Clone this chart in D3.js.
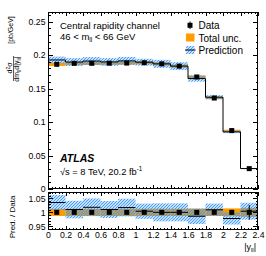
<!DOCTYPE html>
<html>
<head>
<meta charset="utf-8">
<script src="https://cdn.jsdelivr.net/npm/d3@7"></script>
<style>
  body { margin: 0; background: #fff; }
  svg { display: block; font-family: "Liberation Sans", Arial, Helvetica, sans-serif; }
</style>
</head>
<body>
<svg id="chart" width="266" height="256"></svg>
<script>
// |y_ll| bin edges
const binEdges = [0, 0.2, 0.4, 0.6, 0.8, 1.0, 1.2, 1.4, 1.6, 1.8, 2.0, 2.2, 2.4];
// measured cross section [pb/GeV]
const dataVals = [0.1861, 0.1876, 0.1876, 0.1878, 0.1880, 0.1885, 0.1868, 0.1834, 0.1672, 0.1358, 0.0872, 0.0304];
// relative stat. error of data
const dataStat = [0.003, 0.003, 0.003, 0.003, 0.003, 0.003, 0.003, 0.004, 0.004, 0.005, 0.008, 0.026];
// relative total uncertainty (orange)
const totalUnc = [0.013, 0.013, 0.013, 0.013, 0.013, 0.013, 0.013, 0.013, 0.013, 0.013, 0.014, 0.016];
// prediction / data
const predRatio = [1.035, 1.010, 1.018, 1.010, 1.017, 1.004, 1.000, 1.000, 0.986, 1.009, 0.978, 1.004];
// relative prediction uncertainty (hatched)
const predUnc = [0.026, 0.031, 0.031, 0.030, 0.031, 0.027, 0.032, 0.032, 0.028, 0.022, 0.022, 0.030];

// axis ticks
const xMajor = [0, 0.2, 0.4, 0.6, 0.8, 1, 1.2, 1.4, 1.6, 1.8, 2, 2.2, 2.4];
const yMajor = [0, 0.05, 0.1, 0.15, 0.2, 0.25];
const rMajor = [0.95, 1, 1.05];

const svg = d3.select('#chart');
const L = 48, R = 258, mainTop = 12, mainBot = 189, ratTop = 192, ratBot = 230;

const x = d3.scaleLinear().domain([0, 2.4]).range([L, R]);
const y = d3.scaleLinear().domain([0, 0.2642]).range([mainBot, mainTop]);
const yr = d3.scaleLinear().domain([0.937, 1.0725]).range([ratBot, ratTop]);

const xMinor = d3.range(0, 2.4001, 0.04).map(v => +v.toFixed(2)).filter(v => !xMajor.some(m => Math.abs(m - v) < 1e-6));
const yMinor = d3.range(0, 0.2641, 0.01).map(v => +v.toFixed(2)).filter(v => !yMajor.some(m => Math.abs(m - v) < 1e-6));
const rMinor = d3.range(0.94, 1.0701, 0.01).map(v => +v.toFixed(2)).filter(v => !rMajor.some(m => Math.abs(m - v) < 1e-6));

const bins = dataVals.map((d, i) => ({
  lo: binEdges[i], hi: binEdges[i + 1], mid: (binEdges[i] + binEdges[i + 1]) / 2,
  d, stat: dataStat[i], tot: totalUnc[i], pr: predRatio[i], pu: predUnc[i],
  pred: d * predRatio[i]
}));

const defs = svg.append('defs');
const pat = defs.append('pattern').attr('id', 'hatch')
  .attr('patternUnits', 'userSpaceOnUse').attr('width', 3).attr('height', 3);
pat.append('path').attr('d', 'M-1,1 l2,-2 M0,3 l3,-3 M2,4 l2,-2')
  .attr('stroke', '#3d9bff').attr('stroke-width', 1.2);
defs.append('clipPath').attr('id', 'clipMain').append('rect')
  .attr('x', L).attr('y', mainTop).attr('width', R - L).attr('height', mainBot - mainTop);
defs.append('clipPath').attr('id', 'clipRat').append('rect')
  .attr('x', L).attr('y', ratTop).attr('width', R - L).attr('height', ratBot - ratTop);

const ORANGE = '#ff9c00';

// ---------- main panel ----------
const gm = svg.append('g').attr('clip-path', 'url(#clipMain)');

gm.selectAll('rect.tot').data(bins).join('rect').attr('class', 'tot')
  .attr('x', b => x(b.lo)).attr('width', b => x(b.hi) - x(b.lo))
  .attr('y', b => y(b.d * (1 + b.tot))).attr('height', b => y(b.d * (1 - b.tot)) - y(b.d * (1 + b.tot)))
  .attr('fill', ORANGE);

gm.selectAll('rect.pu').data(bins).join('rect').attr('class', 'pu')
  .attr('x', b => x(b.lo)).attr('width', b => x(b.hi) - x(b.lo))
  .attr('y', b => y(b.pred * (1 + b.pu))).attr('height', b => y(b.pred * (1 - b.pu)) - y(b.pred * (1 + b.pu)))
  .attr('fill', 'url(#hatch)');

const stepPts = bins.map(b => [b.lo, b.pred]).concat([[2.4, bins[bins.length - 1].pred]]);
gm.append('path').datum(stepPts)
  .attr('d', d3.line().x(p => x(p[0])).y(p => y(p[1])).curve(d3.curveStepAfter))
  .attr('fill', 'none').attr('stroke', '#000').attr('stroke-width', 1);

gm.selectAll('line.err').data(bins).join('line').attr('class', 'err')
  .attr('x1', b => x(b.mid)).attr('x2', b => x(b.mid))
  .attr('y1', b => y(b.d * (1 + b.stat))).attr('y2', b => y(b.d * (1 - b.stat)))
  .attr('stroke', '#000').attr('stroke-width', 1);
gm.selectAll('rect.pt').data(bins).join('rect').attr('class', 'pt')
  .attr('x', b => x(b.mid) - 2.5).attr('y', b => y(b.d) - 2.5)
  .attr('width', 5).attr('height', 5).attr('fill', '#000');

// ---------- ratio panel ----------
const gr = svg.append('g').attr('clip-path', 'url(#clipRat)');

gr.selectAll('rect.tot').data(bins).join('rect').attr('class', 'tot')
  .attr('x', b => x(b.lo)).attr('width', b => x(b.hi) - x(b.lo))
  .attr('y', b => yr(1 + b.tot)).attr('height', b => yr(1 - b.tot) - yr(1 + b.tot))
  .attr('fill', ORANGE);

gr.selectAll('rect.pu').data(bins).join('rect').attr('class', 'pu')
  .attr('x', b => x(b.lo)).attr('width', b => x(b.hi) - x(b.lo))
  .attr('y', b => yr(b.pr * (1 + b.pu))).attr('height', b => yr(b.pr * (1 - b.pu)) - yr(b.pr * (1 + b.pu)))
  .attr('fill', 'url(#hatch)');

gr.selectAll('line.pr').data(bins).join('line').attr('class', 'pr')
  .attr('x1', b => x(b.lo)).attr('x2', b => x(b.hi))
  .attr('y1', b => yr(b.pr)).attr('y2', b => yr(b.pr))
  .attr('stroke', '#000').attr('stroke-width', 1);

gr.selectAll('line.err').data(bins).join('line').attr('class', 'err')
  .attr('x1', b => x(b.mid)).attr('x2', b => x(b.mid))
  .attr('y1', b => yr(1 + b.stat)).attr('y2', b => yr(1 - b.stat))
  .attr('stroke', '#000').attr('stroke-width', 1);
gr.selectAll('rect.pt').data(bins).join('rect').attr('class', 'pt')
  .attr('x', b => x(b.mid) - 2.5).attr('y', yr(1) - 2.5)
  .attr('width', 5).attr('height', 5).attr('fill', '#000');

// ---------- axes ----------
function tidy(g, size) {
  g.select('.domain').remove();
  g.attr('font-size', size || 8.7).attr('font-family', null);
  g.selectAll('line').attr('shape-rendering', 'crispEdges');
}
function addAxis(axis, tx, ty) {
  const g = svg.append('g').attr('transform', `translate(${tx},${ty})`).call(axis);
  tidy(g);
  g.selectAll('text').attr('fill', '#000');
  return g;
}
const fmt = d3.format('~g');

// main panel
addAxis(d3.axisLeft(y).tickValues(yMajor).tickSize(-5).tickPadding(2.5).tickFormat(fmt), L, 0);
addAxis(d3.axisLeft(y).tickValues(yMinor).tickSize(-2.5).tickFormat(''), L, 0);
addAxis(d3.axisRight(y).tickValues(yMajor).tickSize(-5).tickFormat(''), R, 0);
addAxis(d3.axisRight(y).tickValues(yMinor).tickSize(-2.5).tickFormat(''), R, 0);
addAxis(d3.axisBottom(x).tickValues(xMajor).tickSize(-4).tickFormat(''), 0, mainBot);
addAxis(d3.axisBottom(x).tickValues(xMinor).tickSize(-2).tickFormat(''), 0, mainBot);
addAxis(d3.axisTop(x).tickValues(xMajor).tickSize(-4).tickFormat(''), 0, mainTop);
addAxis(d3.axisTop(x).tickValues(xMinor).tickSize(-2).tickFormat(''), 0, mainTop);

// ratio panel
addAxis(d3.axisLeft(yr).tickValues(rMajor).tickSize(-5).tickPadding(2.5).tickFormat(fmt), L, 0);
addAxis(d3.axisLeft(yr).tickValues(rMinor).tickSize(-2.5).tickFormat(''), L, 0);
addAxis(d3.axisRight(yr).tickValues(rMajor).tickSize(-5).tickFormat(''), R, 0);
addAxis(d3.axisRight(yr).tickValues(rMinor).tickSize(-2.5).tickFormat(''), R, 0);
addAxis(d3.axisBottom(x).tickValues(xMajor).tickSize(-4).tickPadding(2.3).tickFormat(fmt), 0, ratBot);
addAxis(d3.axisBottom(x).tickValues(xMinor).tickSize(-2).tickFormat(''), 0, ratBot);
addAxis(d3.axisTop(x).tickValues(xMajor).tickSize(-4).tickFormat(''), 0, ratTop);
addAxis(d3.axisTop(x).tickValues(xMinor).tickSize(-2).tickFormat(''), 0, ratTop);

// frames
[[mainTop, mainBot], [ratTop, ratBot]].forEach(([t, b]) => {
  svg.append('rect').attr('x', L + 0.5).attr('y', t + 0.5).attr('width', R - L - 1).attr('height', b - t - 1)
    .attr('fill', 'none').attr('stroke', '#000').attr('stroke-width', 1);
});

// ---------- labels ----------
svg.append('text').attr('x', 60).attr('y', 28.5).attr('font-size', 9.5).text('Central rapidity channel');
const t2 = svg.append('text').attr('x', 60).attr('y', 40).attr('font-size', 9.5);
t2.append('tspan').text('46 < m');
t2.append('tspan').attr('font-size', 6.5).attr('dy', 2).text('ll');
t2.append('tspan').attr('dy', -2).text(' < 66 GeV');

svg.append('text').attr('x', 60).attr('y', 162).attr('font-size', 10.5)
  .attr('font-weight', 'bold').attr('font-style', 'italic').text('ATLAS');
const t3 = svg.append('text').attr('x', 60).attr('y', 175).attr('font-size', 9.3);
t3.append('tspan').text('\u221As = 8 TeV, 20.2 fb');
t3.append('tspan').attr('font-size', 6.3).attr('dy', -4).text('-1');

// legend
const lg = svg.append('g');
lg.append('line').attr('x1', 190).attr('x2', 190).attr('y1', 21.5).attr('y2', 29).attr('stroke', '#000');
lg.append('rect').attr('x', 187.5).attr('y', 22.8).attr('width', 5).attr('height', 5).attr('fill', '#000');
lg.append('text').attr('x', 198.5).attr('y', 29).attr('font-size', 10).text('Data');
lg.append('rect').attr('x', 186).attr('y', 33.5).attr('width', 8.5).attr('height', 8).attr('fill', ORANGE);
lg.append('text').attr('x', 198.5).attr('y', 41.5).attr('font-size', 10).text('Total unc.');
lg.append('rect').attr('x', 186).attr('y', 46).attr('width', 8.5).attr('height', 8).attr('fill', 'url(#hatch)');
lg.append('line').attr('x1', 185).attr('x2', 195.5).attr('y1', 50).attr('y2', 50).attr('stroke', '#000');
lg.append('text').attr('x', 198.5).attr('y', 54).attr('font-size', 10).text('Prediction');

// y title main (rotated fraction)
const yt = svg.append('g').attr('transform', 'rotate(-90)');
yt.append('text').attr('x', -30).attr('y', 12.5).attr('font-size', 7).attr('text-anchor', 'middle').text('[pb/GeV]');
const num = yt.append('text').attr('x', -68).attr('y', 12).attr('font-size', 7).attr('text-anchor', 'middle');
num.append('tspan').text('d');
num.append('tspan').attr('font-size', 5).attr('dy', -2.5).text('2');
num.append('tspan').attr('dy', 2.5).text('\u03C3');
yt.append('line').attr('x1', -81).attr('x2', -56).attr('y1', 13.6).attr('y2', 13.6).attr('stroke', '#000').attr('stroke-width', 0.7);
const den = yt.append('text').attr('x', -69).attr('y', 19.3).attr('font-size', 7).attr('text-anchor', 'middle');
den.append('tspan').text('dm');
den.append('tspan').attr('font-size', 5).attr('dy', 1.5).text('ll');
den.append('tspan').attr('dy', -1.5).text('d|y');
den.append('tspan').attr('font-size', 5).attr('dy', 1.5).text('ll');
den.append('tspan').attr('dy', -1.5).text('|');

// y title ratio
svg.append('text').attr('transform', 'translate(15,217) rotate(-90)').attr('font-size', 8)
  .attr('text-anchor', 'middle').text('Pred. / Data');

// x title
const xt = svg.append('text').attr('x', 256).attr('y', 250).attr('font-size', 9).attr('text-anchor', 'end');
xt.append('tspan').text('|y');
xt.append('tspan').attr('font-size', 6).attr('dy', 2).text('ll');
xt.append('tspan').attr('dy', -2).text('|');
</script>
</body>
</html>
